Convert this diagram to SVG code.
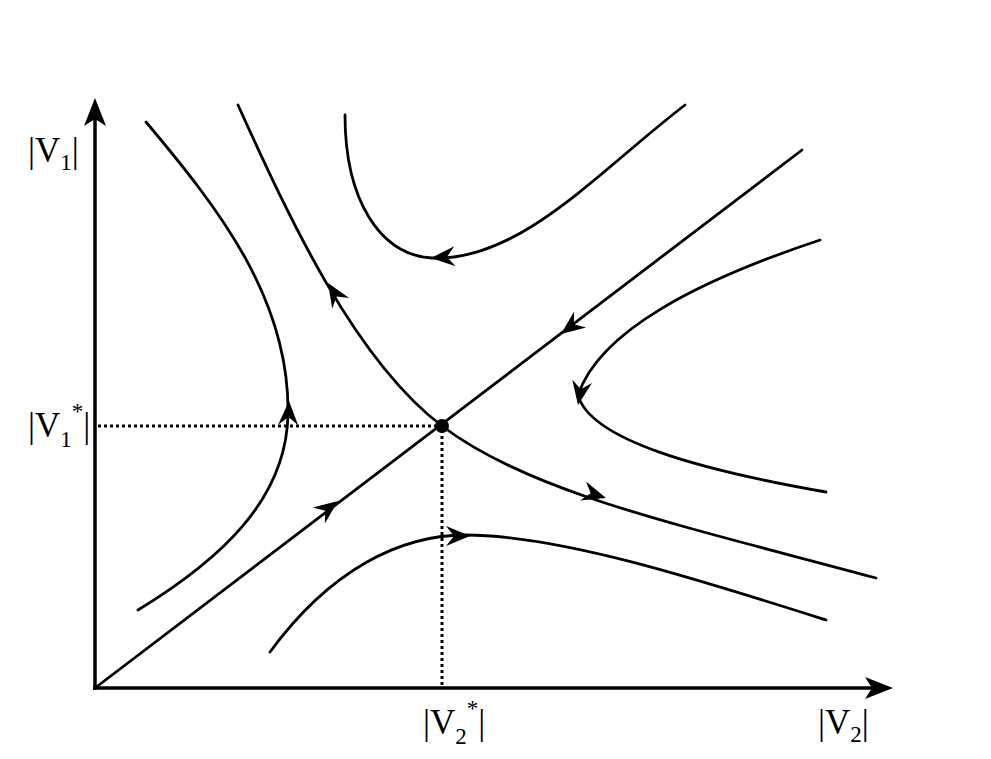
<svg xmlns="http://www.w3.org/2000/svg" width="991" height="759" viewBox="0 0 991 759">
<style>
.ax{stroke:#000;stroke-width:3.5;fill:none}
.cv{stroke:#000;stroke-width:2.8;fill:none;stroke-linecap:round}
.dt{stroke:#000;stroke-width:3;fill:none;stroke-dasharray:3 3}
.lbl{font-family:"Liberation Serif","Times New Roman",serif;font-size:35px;fill:#000}
.ah{fill:#000}
</style>
<defs>
<path id="head" d="M0,0 L-24,-10 L-16,0 L-24,10 Z"/>
</defs>
<rect width="991" height="759" fill="#fff"/>
<g id="axes">
<line class="ax" x1="95" y1="690" x2="95" y2="118"/>
<polygon class="ah" points="95,98 84,126 95,119 106,126"/>
<line class="ax" x1="93" y1="688" x2="874" y2="688"/>
<polygon class="ah" points="893,688 865,677 872,688 865,699"/>
</g>
<g id="guides">
<line class="dt" x1="98" y1="426" x2="440" y2="426"/>
<line class="dt" x1="442" y1="430" x2="442" y2="686"/>
</g>
<g id="connectors">
<path id="diag" class="cv" d="M95,688 L802,150"/>
<path id="sep" class="cv" d="M238,105 C290,220 355,360 442,426 C530,493 680,525 876,578"/>
<path id="left" class="cv" d="M146,122 C220,210 290,300 288,415 C286,500 220,560 138,610"/>
<path id="top" class="cv" d="M345,115 C345,200 380,255 432,258 C520,262 600,170 685,105"/>
<path id="right" class="cv" d="M820,240 C700,280 600,330 578,395 C590,440 700,470 826,492"/>
<path id="bottom" class="cv" d="M270,652 C330,570 400,535 465,535 C560,535 700,580 826,620"/>
<use href="#head" class="ah" transform="translate(338,501) rotate(-37)"/>
<use href="#head" class="ah" transform="translate(561,334) rotate(143)"/>
<use href="#head" class="ah" transform="translate(328,283) rotate(-122)"/>
<use href="#head" class="ah" transform="translate(606,498) rotate(17)"/>
<use href="#head" class="ah" transform="translate(289,401) rotate(-88)"/>
<use href="#head" class="ah" transform="translate(431,258) rotate(176)"/>
<use href="#head" class="ah" transform="translate(578,405) rotate(100)"/>
<use href="#head" class="ah" transform="translate(470,536) rotate(0)"/>
</g>
<g id="equilibrium">
<circle cx="442" cy="426" r="7" fill="#000"/>
</g>
<g id="labels">
<text class="lbl" x="28" y="162">|V<tspan font-size="23" dy="8">1</tspan><tspan dy="-8">|</tspan></text>
<text class="lbl" x="28" y="437">|V<tspan font-size="23" dy="10">1</tspan><tspan font-size="23" dy="-28">*</tspan><tspan dy="18">|</tspan></text>
<text class="lbl" x="423" y="734">|V<tspan font-size="23" dy="10">2</tspan><tspan font-size="23" dy="-28">*</tspan><tspan dy="18">|</tspan></text>
<text class="lbl" x="818" y="734">|V<tspan font-size="23" dy="8">2</tspan><tspan dy="-8">|</tspan></text>
</g>
</svg>
